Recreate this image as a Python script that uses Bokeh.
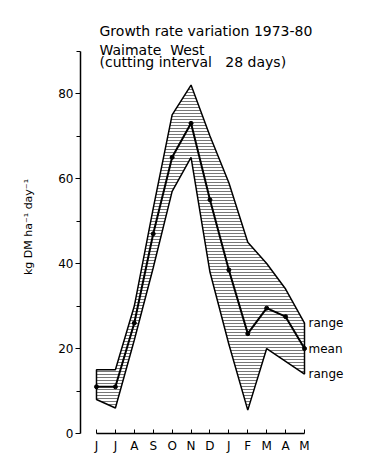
from bokeh.plotting import figure
from bokeh.models import Range1d, FixedTicker, Label
from bokeh.core.properties import value
from bokeh.embed import file_html
from bokeh.resources import INLINE

# ---- data ----
months = ["J", "J", "A", "S", "O", "N", "D", "J", "F", "M", "A", "M"]
month_index = list(range(12))
mean_rate = [11, 11, 26, 47, 65, 73, 55, 38.5, 23.5, 29.5, 27.5, 20]
upper_range = [15, 15, 30, 53, 75, 82, 70, 59, 45, 40, 34, 26]
lower_range = [8, 6, 22, 39, 57, 65, 38, 21, 5.5, 20, 17, 14]
y_major = [0, 20, 40, 60, 80]
y_minor = [10, 30, 50, 70, 90]
end_labels = ["range", "mean", "range"]

FONT = "DejaVu Sans"

p = figure(frame_width=290, frame_height=413,
           x_range=Range1d(-0.846, 14.49), y_range=Range1d(0, 97.2),
           output_backend="svg", toolbar_location=None,
           min_border_left=80, min_border_right=6,
           min_border_top=20, min_border_bottom=34)
p.outline_line_color = None
p.grid.visible = False
p.background_fill_color = "white"

# x axis
xa = p.xaxis[0]
xa.ticker = FixedTicker(ticks=month_index)
xa.major_label_overrides = {i: m for i, m in zip(month_index, months)}
xa.bounds = (month_index[0], month_index[-1])
xa.axis_line_width = 1.5
xa.axis_line_color = "black"
xa.major_tick_in = 4
xa.major_tick_out = 0
xa.major_tick_line_color = "black"
xa.minor_tick_line_color = None
xa.major_label_standoff = 5
xa.major_label_text_font = FONT
xa.major_label_text_font_size = "12px"
xa.major_label_text_color = "black"

# y axis
ya = p.yaxis[0]
ya.ticker = FixedTicker(ticks=y_major, minor_ticks=y_minor)
ya.bounds = (0, 90)
ya.axis_line_width = 1.5
ya.axis_line_color = "black"
ya.major_tick_in = 0
ya.major_tick_out = 5
ya.minor_tick_in = 0
ya.minor_tick_out = 4
ya.major_tick_line_color = "black"
ya.minor_tick_line_color = "black"
ya.major_label_standoff = 2
ya.major_label_text_font = FONT
ya.major_label_text_font_size = "12px"
ya.major_label_text_color = "black"
ya.axis_label = "kg DM ha\u207b\u00b9 day\u207b\u00b9"
ya.axis_label_text_font = FONT
ya.axis_label_text_font_style = "normal"
ya.axis_label_text_font_size = "11px"
ya.axis_label_text_color = "black"
ya.axis_label_standoff = 20

# range band
xs = month_index + month_index[::-1]
ys = upper_range + lower_range[::-1]
p.patch(xs, ys, fill_alpha=0, hatch_pattern="horizontal_line",
        hatch_color="#777777", hatch_scale=3, hatch_weight=1,
        line_color="black", line_width=1.5)

# mean line
p.line(month_index, mean_rate, line_color="black", line_width=2)
p.scatter(month_index, mean_rate, size=4, color="black")

# end labels
p.text(x=[month_index[-1]] * 3,
       y=[upper_range[-1], mean_rate[-1], lower_range[-1]],
       text=end_labels, x_offset=4, text_baseline="middle",
       text_font=value(FONT), text_font_size=value("12px"), text_color="black")

# titles
NB = "\u00a0"
for txt, yy in [("Growth rate variation 1973-80", 94.8),
                ("Waimate" + NB + NB + "West", 90.3),
                ("(cutting interval" + NB + NB + NB + "28 days)", 87.5)]:
    p.add_layout(Label(x=0.16, y=yy, text=txt, text_baseline="middle",
                       text_font=FONT, text_font_size="14px",
                       text_color="black"))

open("out.html", "w").write(file_html(p, INLINE))
